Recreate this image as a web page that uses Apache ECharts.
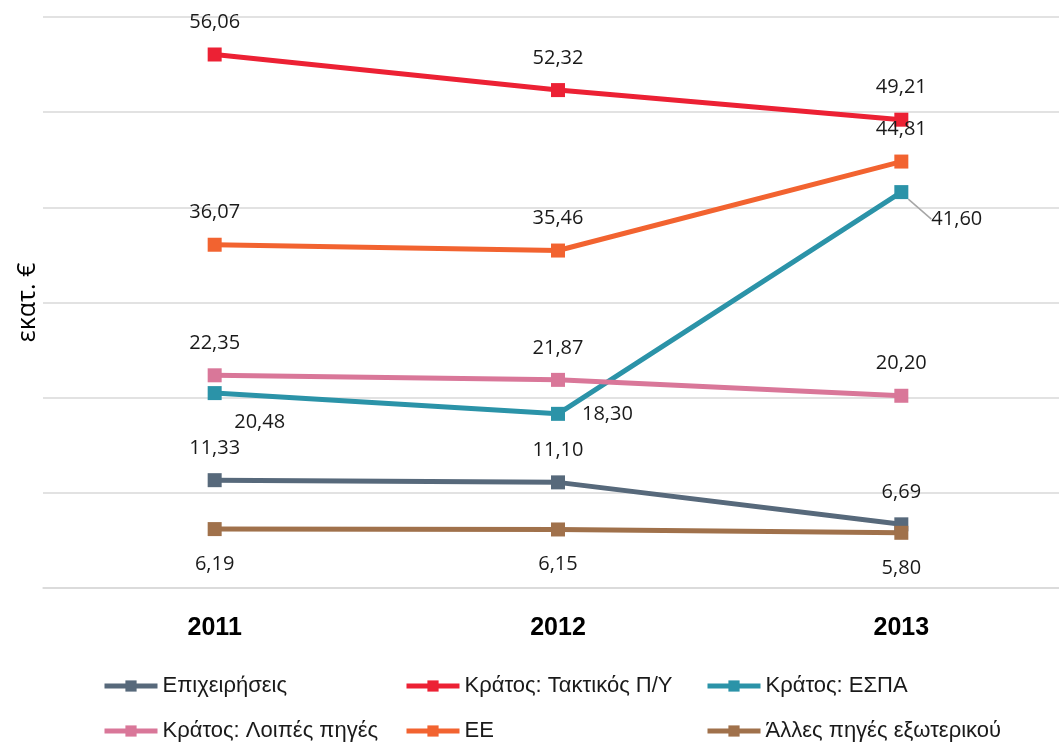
<!DOCTYPE html>
<html>
<head>
<meta charset="utf-8">
<script src="https://cdn.jsdelivr.net/npm/echarts@6/dist/echarts.min.js"></script>
<style>
  html, body { margin: 0; padding: 0; background: #fff; overflow: hidden; }
  #main { width: 1073px; height: 742px; }
</style>
</head>
<body>
<div id="main"></div>
<script>
// κατηγορίες (έτη)
var years = ['2011', '2012', '2013'];
// τιμές σε εκατ. €
var epixeiriseis = [11.33, 11.10, 6.69];
var taktikos = [56.06, 52.32, 49.21];
var espa = [20.48, 18.30, 41.60];
var loipes = [22.35, 21.87, 20.20];
var ee = [36.07, 35.46, 44.81];
var alles = [6.19, 6.15, 5.80];

var names = ['Επιχειρήσεις', 'Κράτος: Τακτικός Π/Υ', 'Κράτος: ΕΣΠΑ',
             'Κράτος: Λοιπές πηγές', 'ΕΕ', 'Άλλες πηγές εξωτερικού'];
var colors = ['#57697B', '#EC2134', '#2B93A8', '#D97799', '#F26330', '#A0714B'];

var fontFam = '"Open Sans", "Noto Sans", sans-serif';

function fmt(p) {
  return p.value.toFixed(2).replace('.', ',');
}

function makeSeries(name, data, color, labelPos, perPoint) {
  return {
    name: name,
    type: 'line',
    data: data.map(function (v, i) {
      var d = { value: v };
      if (perPoint && perPoint[i]) {
        d.label = perPoint[i].label;
        d.labelLine = perPoint[i].labelLine;
      }
      return d;
    }),
    symbol: 'rect',
    symbolSize: 14,
    lineStyle: { width: 5, color: color },
    itemStyle: { color: color },
    label: {
      show: true,
      position: labelPos,
      distance: labelPos === 'top' ? 15 : 18,
      formatter: fmt,
      fontFamily: fontFam,
      fontSize: 20,
      color: '#1a1a1a'
    }
  };
}

var chart = echarts.init(document.getElementById('main'));

var legendText = { fontFamily: '"Liberation Sans", sans-serif', fontSize: 22, lineHeight: 20, color: '#1a1a1a' };
function legendCol(left, data) {
  return {
    orient: 'vertical',
    left: left,
    top: 675,
    height: 67,
    padding: 0,
    itemWidth: 53,
    itemHeight: 14,
    itemGap: 23,
    data: data,
    lineStyle: { width: 5 },
    textStyle: legendText
  };
}

var espaSeries = makeSeries(names[2], espa, colors[2], 'right', [
  { label: { position: 'bottom', distance: 12 }, labelLine: { show: false } },
  { label: { position: 'right', distance: 17 }, labelLine: { show: false } },
  { label: { position: 'right', distance: 17 }, labelLine: { show: true } }
]);
espaSeries.labelLayout = function (p) {
  if (p.dataIndex === 0) return { dx: 45, dy: 0 };
  if (p.dataIndex === 2) return { dx: 6, dy: 27 };
  return {};
};
espaSeries.labelLine = { show: true, lineStyle: { color: '#a6a6a6', width: 1.5 } };

chart.setOption({
  animation: false,
  color: colors,
  grid: { left: 43, right: 0, top: 17, bottom: 154 },
  legend: [
    legendCol(102, [names[0], names[3]]),
    legendCol(404, [names[1], names[4]]),
    legendCol(705, [names[2], names[5]])
  ],
  xAxis: {
    type: 'category',
    data: years,
    boundaryGap: true,
    axisLine: { lineStyle: { color: '#d9d9d9', width: 1.5 } },
    axisTick: { show: false },
    axisLabel: {
      margin: 28,
      fontFamily: '"Liberation Sans", sans-serif',
      fontWeight: 'bold',
      fontSize: 25,
      color: '#000'
    }
  },
  yAxis: {
    type: 'value',
    min: 0,
    max: 60,
    interval: 10,
    name: 'εκατ. €',
    nameLocation: 'middle',
    nameGap: 3,
    nameRotate: 90,
    nameTextStyle: { fontFamily: fontFam, fontSize: 25, color: '#000' },
    axisLabel: { show: false },
    axisLine: { show: false },
    axisTick: { show: false },
    splitLine: { lineStyle: { color: '#d9d9d9', width: 1.5 } }
  },
  series: [
    makeSeries(names[0], epixeiriseis, colors[0], 'top'),
    makeSeries(names[1], taktikos, colors[1], 'top'),
    espaSeries,
    makeSeries(names[3], loipes, colors[3], 'top'),
    makeSeries(names[4], ee, colors[4], 'top'),
    makeSeries(names[5], alles, colors[5], 'bottom')
  ]
});
</script>
</body>
</html>
